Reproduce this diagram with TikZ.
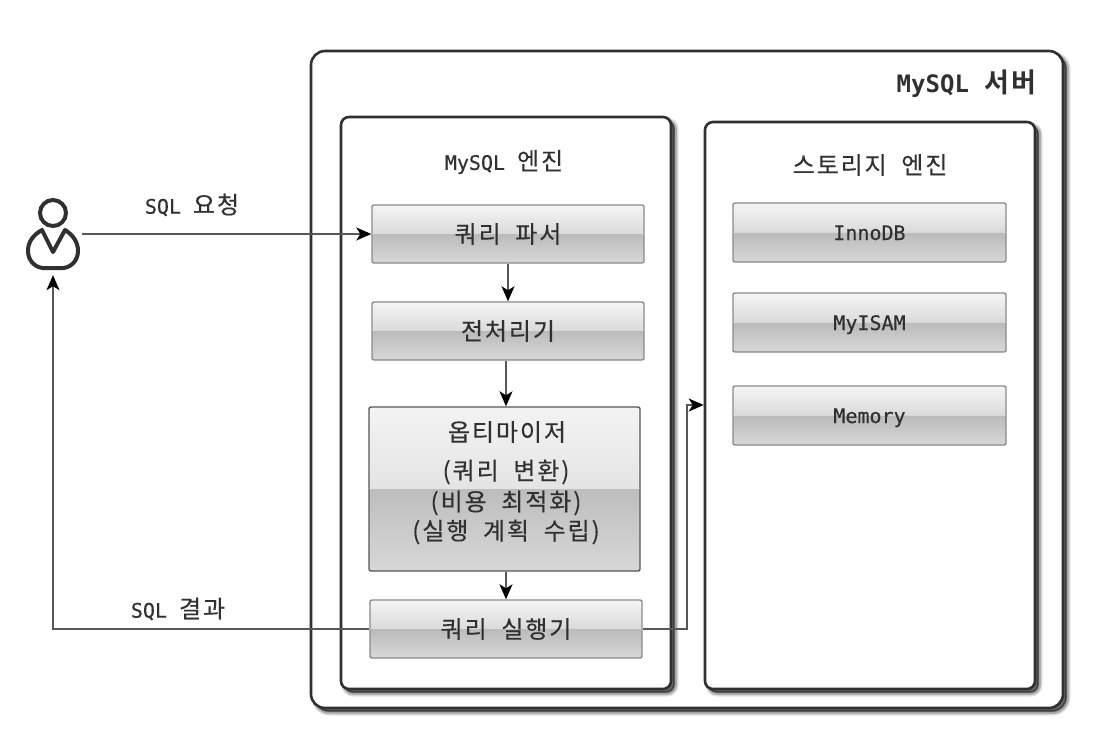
\documentclass[tikz,border=0pt]{standalone}
\usepackage{fontspec}
\newfontfamily\kofont[WordSpace=2,LetterSpace=8,FakeBold=0.3]{Noto Sans CJK KR}
\newfontfamily\kobold[WordSpace=2,LetterSpace=8]{Noto Sans CJK KR Bold}
\newfontfamily\latfont[FakeBold=0.3]{DejaVu Sans Mono}
\newfontfamily\latbold{DejaVu Sans Mono Bold}
\usetikzlibrary{arrows.meta,calc}
\newcommand{\KO}[2][24]{{\fontsize{#1pt}{#1pt}\selectfont\kofont #2}}
\newcommand{\LA}[2][20]{{\fontsize{#1pt}{#1pt}\selectfont\latfont #2}}
\definecolor{ink}{HTML}{303030}
\definecolor{edge}{HTML}{8A8A8A}
\definecolor{edgedark}{HTML}{555555}
\definecolor{linegray}{HTML}{575757}
\definecolor{topa}{HTML}{F5F5F5}
\definecolor{topb}{HTML}{DADADA}
\definecolor{lowa}{HTML}{BBBBBB}
\definecolor{lowb}{HTML}{D8D8D8}
\definecolor{optta}{HTML}{F3F3F3}
\definecolor{opttb}{HTML}{E4E4E4}
\definecolor{optla}{HTML}{BDBDBD}
\tikzset{
  x=1pt,y=-1pt,
  softshadow/.style={
    preaction={draw=black,draw opacity=.12,fill=black,fill opacity=.12,line width=7pt,transform canvas={xshift=4pt,yshift=-4pt}},
    preaction={draw=black,draw opacity=.22,fill=black,fill opacity=.22,line width=4pt,transform canvas={xshift=4pt,yshift=-4pt}},
    preaction={draw=black,draw opacity=.35,fill=black,fill opacity=.35,line width=1pt,transform canvas={xshift=3pt,yshift=-3pt}}},
  panel/.style={draw=ink,line width=2.6pt,fill=white,inner sep=0pt,softshadow},
  gloss/.style n args={4}{draw=#4,line width=1.4pt,rounded corners=2pt,inner sep=0pt,text=ink,
    path picture={
      \coordinate (tl) at (path picture bounding box.north west);
      \coordinate (br) at (path picture bounding box.south east);
      \coordinate (mr) at ($(path picture bounding box.north east)!.5!(path picture bounding box.south east)$);
      \coordinate (ml) at ($(path picture bounding box.north west)!.5!(path picture bounding box.south west)$);
      \shade[top color=#1,bottom color=#2] (tl) rectangle (mr);
      \shade[top color=#3,bottom color=lowb] (ml) rectangle (br);
    }},
  smallbox/.style={gloss={topa}{topb}{lowa}{edge},minimum width=272pt,minimum height=58pt},
  storebox/.style={smallbox,minimum width=273pt,minimum height=59pt,text height=15pt,text depth=0pt},
  label/.style={inner sep=0pt,text=ink},
  flow/.style={draw=linegray,line width=1.5pt,-{Stealth[length=15pt,width=13pt,inset=4pt,color=black]}}
}
\begin{document}
\begin{tikzpicture}
\useasboundingbox (0,0) rectangle (1118,738);
\fill[white] (0,0) rectangle (1118,738);
% panels
\node[panel,rounded corners=14pt,minimum width=752pt,minimum height=657pt] (server) at (687,379.5) {};
\node[panel,rounded corners=8pt,minimum width=330pt,minimum height=572pt] (engine) at (506,403) {};
\node[panel,rounded corners=8pt,minimum width=330pt,minimum height=567pt] (storage) at (870,405.5) {};
\node[label,anchor=east] (servertitle) at (1037,84) {{\fontsize{24pt}{24pt}\selectfont\latbold MySQL}\hspace{16pt}{\fontsize{27pt}{27pt}\selectfont\kobold 서버}};
\node[label] (enginetitle) at (504,162) {\LA{MySQL}\hspace{12pt}\KO{엔진}};
\node[label] (storagetitle) at (870,165) {\KO{스토리지 엔진}};
% engine boxes
\node[smallbox] (parser) at (508,234) {\KO{쿼리 파서}};
\node[smallbox] (prep) at (508,331) {\KO{전처리기}};
\node[gloss={optta}{opttb}{optla}{edgedark},minimum width=271pt,minimum height=164pt] (opt) at (504.5,489) {};
\node[label] (optA) at (507,432) {\KO{옵티마이저}};
\node[label] (optB) at (506,472) {\KO{(쿼리 변환)}};
\node[label] (optC) at (506,503) {\KO{(비용 최적화)}};
\node[label] (optD) at (506,532) {\KO{(실행 계획 수립)}};
\node[smallbox] (exec) at (506,629) {\KO{쿼리 실행기}};
% storage boxes
\node[storebox] (inno) at (869.5,232.5) {\LA{InnoDB}};
\node[storebox] (myisam) at (869.5,322.5) {\LA{MyISAM}};
\node[storebox] (memory) at (869.5,415.5) {\LA{Memory}};
% user
\node[minimum width=58pt,minimum height=82pt,inner sep=0pt] (user) at (53,234) {};
\draw[draw=ink,line width=4pt] (53,213) circle[radius=13];
\draw[draw=ink,line width=4pt,line join=round] (53,252) -- (42,230)
  .. controls (33,235) and (28,242) .. (28,251)
  .. controls (28,262) and (37,269) .. (46,268) -- (60,268)
  .. controls (69,269) and (78,262) .. (78,251)
  .. controls (78,242) and (73,235) .. (65,230) -- cycle;
% labels
\node[label] (reqlabel) at (192,205) {\LA{SQL}\hspace{12pt}\KO{요청}};
\node[label] (reslabel) at (178,609) {\LA{SQL}\hspace{12pt}\KO{결과}};
% connectors
\coordinate (bendA) at (687,629);
\coordinate (bendB) at (687,405);
\coordinate (storeIn) at (storage.west |- bendB);
\draw[flow] (user.east) -- (parser.west);
\draw[flow] (parser.south) -- (parser.south |- prep.north);
\draw[flow] (prep.south -| exec.north) -- (opt.north -| exec.north);
\draw[flow] (opt.south -| exec.north) -- (exec.north);
\draw[flow] (exec.west) -| (user.south);
\draw[flow] (exec.east) -- (bendA) -- (bendB) -- (storeIn);
\end{tikzpicture}
\end{document}
